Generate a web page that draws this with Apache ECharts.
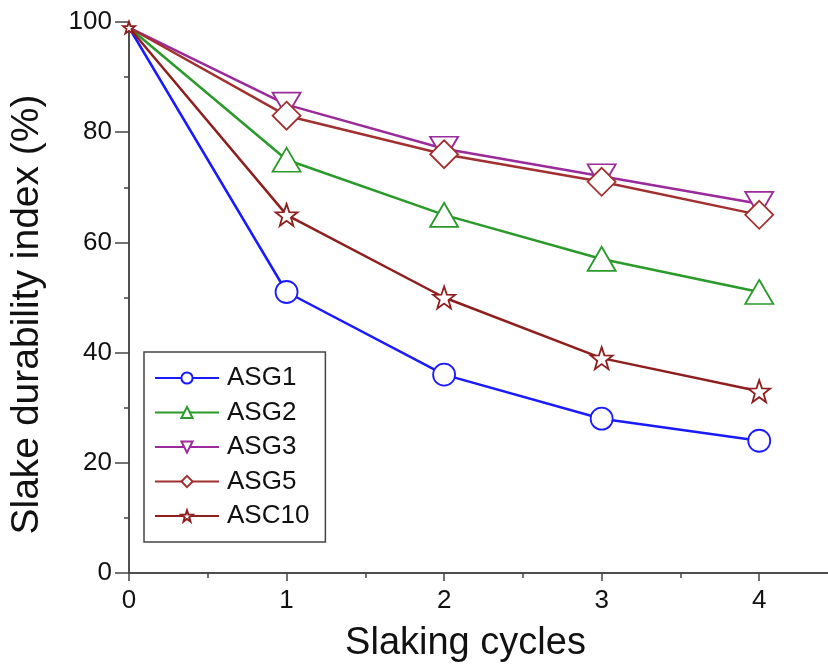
<!DOCTYPE html>
<html><head><meta charset="utf-8">
<script src="https://cdn.jsdelivr.net/npm/echarts@6/dist/echarts.min.js"></script>
<style>html,body{margin:0;padding:0;background:#fff}#c{width:828px;height:669px}</style>
</head><body><div id="c"></div>
<script>
const cycles = [0, 1, 2, 3, 4];
const ASG1 = [99, 51, 36, 28, 24];
const ASG2 = [99, 75, 65, 57, 51];
const ASG3 = [99, 85, 77, 72, 67];
const ASG5 = [99, 83, 76, 71, 65];
const ASC10 = [99, 65, 50, 39, 33];
const xTicks = ['0', '1', '2', '3', '4'];
const yTicks = [0, 20, 40, 60, 80, 100];

const star = 'path://M0,-10 L2.35,-3.24 9.51,-3.09 3.8,1.24 5.88,8.09 0,4 -5.88,8.09 -3.8,1.24 -9.51,-3.09 -2.35,-3.24 Z';
const font = 'Liberation Sans, Arial, sans-serif';

function mk(name, vals, color, symbol, size, rotate, firstSize) {
  return {
    name, type: 'line',
    data: cycles.map((c, i) => i === 0 ? { value: [c, vals[i]], symbolSize: firstSize } : [c, vals[i]]),
    symbol, symbolSize: size, symbolRotate: rotate || 0, showAllSymbol: true,
    lineStyle: { color, width: 2.5 },
    itemStyle: { color: '#fff', borderColor: color, borderWidth: 1.8 },
    emphasis: { disabled: true }, z: 3
  };
}
const chart = echarts.init(document.getElementById('c'));
const axisLine = { show: true, lineStyle: { color: '#444', width: 1.5 } };
chart.setOption({
  animation: false,
  grid: { left: 129, top: 22, width: 709, bottom: 96, containLabel: false, outerBoundsMode: 'none' },
  legend: {
    orient: 'vertical', left: 144, top: 352, padding: [13, 16, 13, 10],
    itemWidth: 64, itemHeight: 14, itemGap: 8.5,
    borderColor: '#444', borderWidth: 1.5, backgroundColor: '#fff',
    textStyle: { fontFamily: font, fontSize: 26, color: '#111', lineHeight: 26, padding: [0, 0, 0, 3] },
    data: ['ASG1', 'ASG2', 'ASG3', 'ASG5', 'ASC10']
  },
  xAxis: [{
    type: 'value', min: 0, max: 4.5, interval: 1,
    name: 'Slaking cycles', nameLocation: 'middle', nameGap: 52,
    nameTextStyle: { fontFamily: font, fontSize: 38, color: '#111', padding: [0, 36, 0, 0] },
    axisLine, axisTick: { show: true, length: 8, lineStyle: { color: '#444', width: 1.5 } },
    minorTick: { show: true, splitNumber: 2, length: 5, lineStyle: { color: '#444', width: 1.5 } },
    axisLabel: { fontFamily: font, fontSize: 26, color: '#111', margin: 15, showMaxLabel: false,
      formatter: v => xTicks.includes(String(v)) ? String(v) : '' },
    splitLine: { show: false }
  }, {
    type: 'value', min: 0, max: 4.5, interval: 1, position: 'top',
    axisLine, axisTick: { show: true, inside: true, length: 8, lineStyle: { color: '#444', width: 1.5 } },
    minorTick: { show: true, splitNumber: 2, length: 5, lineStyle: { color: '#444', width: 1.5 } },
    axisLabel: { show: false }, splitLine: { show: false }
  }],
  yAxis: [{
    type: 'value', min: 0, max: 100, interval: 20,
    name: 'Slake durability index (%)', nameLocation: 'middle', nameGap: 82,
    nameTextStyle: { fontFamily: font, fontSize: 39, color: '#111', padding: [0, 34, 0, 0] },
    axisLine, axisTick: { show: true, length: 8, lineStyle: { color: '#444', width: 1.5 } },
    minorTick: { show: true, splitNumber: 2, length: 5, lineStyle: { color: '#444', width: 1.5 } },
    axisLabel: { fontFamily: font, fontSize: 26, color: '#111', margin: 17,
      formatter: v => yTicks.includes(v) ? String(v) : '' },
    splitLine: { show: false }
  }, {
    type: 'value', min: 0, max: 100, interval: 20, position: 'right',
    axisLine, axisTick: { show: true, inside: true, length: 14, lineStyle: { color: '#444', width: 1.5 } },
    axisLabel: { show: false }, splitLine: { show: false }
  }],
  series: [
    mk('ASG1', ASG1, '#1a1aff', 'circle', 22, 0, 0),
    mk('ASG2', ASG2, '#2a9a2a', 'triangle', [28, 24], 0, 0),
    mk('ASG3', ASG3, '#9b2a9b', 'triangle', [28, 24], 180, 0),
    mk('ASG5', ASG5, '#a33030', 'diamond', 28, 0, 0),
    mk('ASC10', ASC10, '#8f1f1f', star, 22, 0, 12)
  ]
});
</script></body></html>
